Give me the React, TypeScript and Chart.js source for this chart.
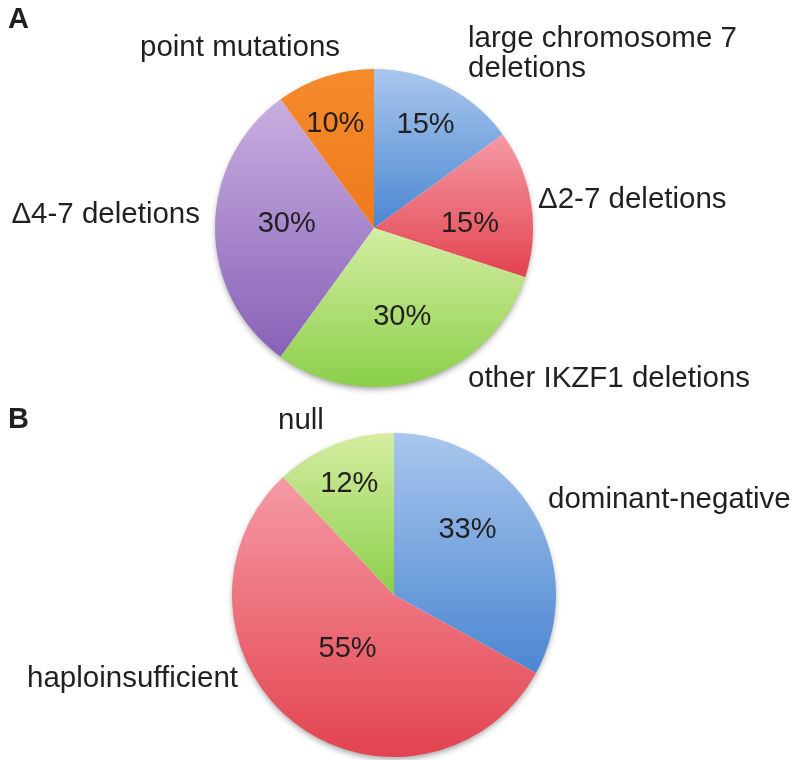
import React, { useEffect, useRef } from "react";
import { Chart, registerables } from "chart.js";

Chart.register(...registerables);

// ---------- data ----------
const A_CATEGORIES = [
  "large chromosome 7 deletions",
  "Δ2-7 deletions",
  "other IKZF1 deletions",
  "Δ4-7 deletions",
  "point mutations",
];
const A_VALUES = [15, 15, 30, 30, 10];
const A_PERCENT_LABELS = ["15%", "15%", "30%", "30%", "10%"];

const B_CATEGORIES = ["dominant-negative", "haploinsufficient", "null"];
const B_VALUES = [33, 55, 12];
const B_PERCENT_LABELS = ["33%", "55%", "12%"];

// ---------- styles ----------
const BLUE = ["#a9c7ec", "#4b86d2"];
const RED = ["#f59aa5", "#e2434f"];
const GREEN = ["#d4eda2", "#8bcf4a"];
const PURPLE = ["#c9aee0", "#8662b7"];
const ORANGE = ["#f68b2c", "#ee7a1c"];

const A_COLORS = [BLUE, RED, GREEN, PURPLE, ORANGE];
const B_COLORS = [BLUE, RED, GREEN];

// label placement inside slices: radius fraction and angular shift (deg)
const A_LABEL_RADIUS = [0.74, 0.605, 0.575, 0.55, 0.71];
const A_LABEL_SHIFT = [-1, 5, 0, 4, -2];
const B_LABEL_RADIUS = [0.616, 0.43, 0.75];
const B_LABEL_SHIFT = [-12, 4, 0];

const FONT = '"Liberation Sans", Arial, sans-serif';
const TEXT_COLOR = "#231f20";

type OuterLabel = { lines: string[]; x: number; y: number; align: CanvasTextAlign };

const A_OUTER: OuterLabel[] = [
  { lines: ["large chromosome 7", "deletions"], x: 468, y: 47, align: "left" },
  { lines: [A_CATEGORIES[1]], x: 538, y: 208, align: "left" },
  { lines: [A_CATEGORIES[2]], x: 468, y: 387, align: "left" },
  { lines: [A_CATEGORIES[3]], x: 200, y: 223, align: "right" },
  { lines: [A_CATEGORIES[4]], x: 140, y: 56, align: "left" },
];
const B_OUTER: OuterLabel[] = [
  { lines: [B_CATEGORIES[0]], x: 548, y: 118, align: "left" },
  { lines: [B_CATEGORIES[1]], x: 27, y: 297, align: "left" },
  { lines: [B_CATEGORIES[2]], x: 278, y: 39, align: "left" },
];

function sliceGradient(colors: string[][]) {
  return (ctx: any) => {
    const chart = ctx.chart;
    const area = chart.chartArea;
    const pair = colors[ctx.dataIndex % colors.length];
    if (!area) return pair[1];
    const cx = (area.left + area.right) / 2;
    const cy = (area.top + area.bottom) / 2;
    const R = Math.min(area.right - area.left, area.bottom - area.top) / 2;
    const data: number[] = ctx.dataset.data;
    const total = data.reduce((s, v) => s + v, 0);
    let cum = 0;
    for (let i = 0; i < ctx.dataIndex; i++) cum += data[i];
    const start = -Math.PI / 2 + (2 * Math.PI * cum) / total;
    const end = start + (2 * Math.PI * data[ctx.dataIndex]) / total;
    const ys = [cy, cy + R * Math.sin(start), cy + R * Math.sin(end)];
    for (let k = -1; k <= 2; k++) {
      const top = -Math.PI / 2 + 2 * Math.PI * k;
      const bottom = Math.PI / 2 + 2 * Math.PI * k;
      if (top >= start && top <= end) ys.push(cy - R);
      if (bottom >= start && bottom <= end) ys.push(cy + R);
    }
    const y0 = Math.min(...ys);
    const y1 = Math.max(...ys);
    const g = chart.ctx.createLinearGradient(0, y0, 0, y1 + 0.001);
    g.addColorStop(0, pair[0]);
    g.addColorStop(1, pair[1]);
    return g;
  };
}

const decorPlugin = {
  id: "decor",
  beforeDatasetsDraw(chart: any, _args: any, opts: any) {
    const arc = chart.getDatasetMeta(0).data[0];
    if (!arc) return;
    const { x, y, outerRadius } = arc.getProps(["x", "y", "outerRadius"], true);
    const c = chart.ctx;
    c.save();
    c.shadowColor = "rgba(0,0,0,0.4)";
    c.shadowBlur = 6;
    c.shadowOffsetY = 3;
    c.beginPath();
    c.arc(x, y, outerRadius - 1, 0, Math.PI * 2);
    c.fillStyle = "#ffffff";
    c.fill();
    c.restore();
  },
  afterDatasetsDraw(chart: any, _args: any, opts: any) {
    const c = chart.ctx;
    const meta = chart.getDatasetMeta(0);
    c.save();
    c.fillStyle = TEXT_COLOR;
    const fs = 29;
    c.font = `${fs}px ${FONT}`;
    c.textAlign = "center";
    c.textBaseline = "alphabetic";
    meta.data.forEach((el: any, i: number) => {
      const p = el.getProps(["x", "y", "startAngle", "endAngle", "outerRadius"], true);
      const mid = (p.startAngle + p.endAngle) / 2 + (opts.shift[i] * Math.PI) / 180;
      const r = p.outerRadius * opts.radius[i];
      const lx = p.x + Math.cos(mid) * r;
      const ly = p.y + Math.sin(mid) * r;
      c.fillText(opts.percent[i], lx, ly + fs * 0.358);
    });
    // outer labels
    c.font = `29.5px ${FONT}`;
    opts.outer.forEach((lab: OuterLabel) => {
      c.textAlign = lab.align;
      lab.lines.forEach((line, j) => c.fillText(line, lab.x, lab.y + j * 30));
    });
    // panel letter
    c.font = `bold 29px ${FONT}`;
    c.textAlign = "left";
    c.fillText(opts.panel.text, opts.panel.x, opts.panel.y);
    c.restore();
  },
};

function makeConfig(
  categories: string[],
  values: number[],
  colors: string[][],
  padding: any,
  decor: any
): any {
  return {
    type: "pie",
    data: {
      labels: categories,
      datasets: [
        {
          data: values,
          backgroundColor: sliceGradient(colors),
          borderWidth: 0,
          hoverOffset: 0,
        },
      ],
    },
    options: {
      responsive: false,
      animation: false,
      devicePixelRatio: 1,
      layout: { padding },
      events: [],
      plugins: {
        legend: { display: false },
        tooltip: { enabled: false },
        decor,
      },
    },
    plugins: [decorPlugin],
  };
}

export default function App() {
  const refA = useRef<HTMLCanvasElement>(null);
  const refB = useRef<HTMLCanvasElement>(null);

  useEffect(() => {
    const chartA = new Chart(
      refA.current as HTMLCanvasElement,
      makeConfig(
        A_CATEGORIES,
        A_VALUES,
        A_COLORS,
        { left: 215, right: 267, top: 69, bottom: 13 },
        {
          percent: A_PERCENT_LABELS,
          radius: A_LABEL_RADIUS,
          shift: A_LABEL_SHIFT,
          outer: A_OUTER,
          panel: { text: "A", x: 8, y: 28 },
        }
      )
    );
    const chartB = new Chart(
      refB.current as HTMLCanvasElement,
      makeConfig(
        B_CATEGORIES,
        B_VALUES,
        B_COLORS,
        { left: 232, right: 244, top: 43, bottom: 3 },
        {
          percent: B_PERCENT_LABELS,
          radius: B_LABEL_RADIUS,
          shift: B_LABEL_SHIFT,
          outer: B_OUTER,
          panel: { text: "B", x: 8, y: 38 },
        }
      )
    );
    return () => {
      chartA.destroy();
      chartB.destroy();
    };
  }, []);

  return (
    <div
      style={{
        position: "absolute",
        left: 0,
        top: 0,
        width: 800,
        height: 760,
        background: "#ffffff",
        overflow: "hidden",
      }}
    >
      <canvas
        ref={refA}
        width={800}
        height={400}
        style={{ position: "absolute", left: 0, top: 0, width: 800, height: 400 }}
      />
      <canvas
        ref={refB}
        width={800}
        height={370}
        style={{ position: "absolute", left: 0, top: 390, width: 800, height: 370 }}
      />
    </div>
  );
}
